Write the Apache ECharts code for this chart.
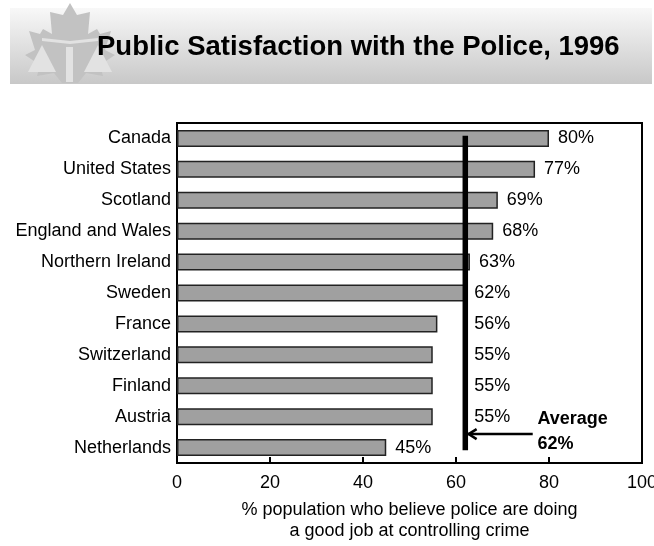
<!DOCTYPE html>
<html><head><meta charset="utf-8">
<script src="https://cdn.jsdelivr.net/npm/echarts@6/dist/echarts.min.js"></script>
<style>html,body{margin:0;padding:0;background:#fff}#c{width:654px;height:546px}</style>
</head><body><div id="c"></div>
<script>
const titleText = 'Public Satisfaction with the Police, 1996';
const categories = ['Canada','United States','Scotland','England and Wales','Northern Ireland','Sweden','France','Switzerland','Finland','Austria','Netherlands'];
const values = [80,77,69,68,63,62,56,55,55,55,45];
const averageValue = 62;
const xTicks = [0,20,40,60,80,100];
const axisName = '% population who believe police are doing\na good job at controlling crime';

const FONT = '"Liberation Sans", Arial, sans-serif';
const chart = echarts.init(document.getElementById('c'), null, {renderer:'canvas'});

// label anchors: labels of bars just short of the average line sit to its right
const labelAnchors = values.map(v => (v < averageValue && v > averageValue - 10) ? averageValue : v);

chart.setOption({
  animation:false,
  grid:{left:177, right:12, top:123, bottom:83, show:true, borderColor:'#000', borderWidth:2,
    backgroundColor:'transparent', containLabel:false, outerBoundsMode:'none'},
  xAxis:{type:'value', min:0, max:100, interval:20,
    axisLine:{show:true, lineStyle:{color:'#000', width:2}},
    axisTick:{show:true, inside:true, length:6, lineStyle:{color:'#000', width:2}},
    splitLine:{show:false},
    axisLabel:{color:'#000', fontFamily:FONT, fontSize:18, margin:11, hideOverlap:false,
      formatter:v => xTicks.includes(v) ? String(v) : ''},
    name:axisName, nameLocation:'middle', nameGap:37,
    nameTextStyle:{color:'#000', fontFamily:FONT, fontSize:18, lineHeight:21}
  },
  yAxis:{type:'category', data:categories, inverse:true,
    axisLine:{show:true, lineStyle:{color:'#000', width:2}},
    axisTick:{show:false},
    axisLabel:{color:'#000', fontFamily:FONT, fontSize:18, margin:6}
  },
  series:[
    {type:'bar', data:values, barWidth:17, z:2,
      itemStyle:{color:'#a0a0a0', borderColor:'#222', borderWidth:1.5}},
    {type:'scatter', data:labelAnchors.map((a,i)=>[a,categories[i]]), symbolSize:0, z:5,
      itemStyle:{opacity:1},
      label:{show:true, position:'right', distance:9, color:'#000', fontFamily:FONT, fontSize:18,
        formatter:p => values[p.dataIndex] + '%'}},
    {type:'line', data:[[averageValue,categories[0]],[averageValue,categories[categories.length-1]]],
      symbol:'none', z:4, lineStyle:{color:'#000', width:5.5, cap:'square'}}
  ]
});

function drawGraphics(){
  const p = (x,c) => chart.convertToPixel({gridIndex:0},[x,c]);
  const austria = p(0, categories[categories.length-2]);
  const neth = p(0, categories[categories.length-1]);
  const ay = (austria[1] + neth[1]) / 2 + 2;
  const ax0 = p(averageValue + 0.5, categories[0])[0];
  const ax1 = p(76.5, categories[0])[0];
  const tx = p(77.5, categories[0])[0];
  const half = [[0,3],[7,15],[20,12],[18,34],[27,29],[30,34],[41,31],[35,50],[45,55],[30,65],[33,76],[16,73],[8,83],[3,83]];
  const leaf = half.map(q=>[70+q[0],q[1]]).concat(half.slice().reverse().map(q=>[70-q[0],q[1]]));
  chart.setOption({graphic:[
    {type:'rect', shape:{x:10,y:8,width:642,height:76}, z:0,
      style:{fill:new echarts.graphic.LinearGradient(0,0,0,1,[{offset:0,color:'#f8f8f8'},{offset:1,color:'#c8c8c8'}])}},
    {type:'polygon', z:1, shape:{points:leaf}, style:{fill:'#c2c2c2'}},
    {type:'polygon', z:2, shape:{points:[[42,38],[70,41],[98,38],[98,41],[70,44],[42,41]]}, style:{fill:'#e2e2e2'}},
    {type:'polygon', z:2, shape:{points:[[42,45],[56,72],[28,72]]}, style:{fill:'#e2e2e2'}},
    {type:'polygon', z:2, shape:{points:[[98,45],[112,72],[84,72]]}, style:{fill:'#e2e2e2'}},
    {type:'rect', z:2, shape:{x:66,y:47,width:7,height:35}, style:{fill:'#e2e2e2'}},
    {type:'text', z:3, x:97, y:47, style:{text:titleText, fill:'#000', font:'bold 27.5px '+FONT, textVerticalAlign:'middle'}},
    {type:'line', z:10, shape:{x1:ax1,y1:ay,x2:ax0,y2:ay}, style:{stroke:'#000', lineWidth:2.5}},
    {type:'polyline', z:10, shape:{points:[[ax0+9,ay-5],[ax0+1,ay],[ax0+9,ay+5]]}, style:{stroke:'#000', lineWidth:2.5, fill:null}},
    {type:'text', z:10, x:tx, y:ay-15, style:{text:'Average', fill:'#000', font:'bold 18px '+FONT, textVerticalAlign:'middle'}},
    {type:'text', z:10, x:tx, y:ay+10, style:{text:averageValue+'%', fill:'#000', font:'bold 18px '+FONT, textVerticalAlign:'middle'}}
  ]});
}
drawGraphics();
</script></body></html>
